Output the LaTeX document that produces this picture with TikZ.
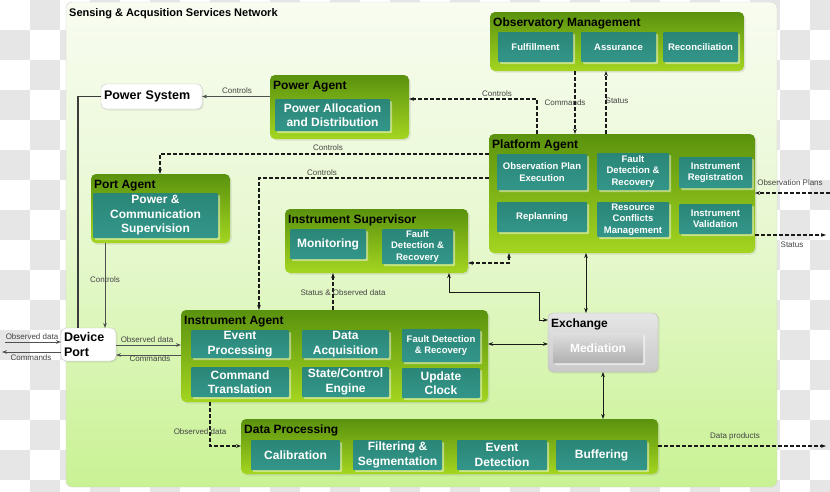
\documentclass[tikz,border=0pt]{standalone}
\usepackage{fontspec}
\setmainfont{Liberation Sans}
\usetikzlibrary{arrows.meta,shadows}
\definecolor{grpTop}{HTML}{5A920E}
\definecolor{grpBot}{HTML}{A4D520}
\definecolor{tealA}{HTML}{2A8677}
\definecolor{tealB}{HTML}{33968A}
\definecolor{panelTop}{HTML}{F8FCF1}
\definecolor{panelMid}{HTML}{E6F8CE}
\definecolor{panelBot}{HTML}{C9F294}
\definecolor{labC}{HTML}{444444}
\definecolor{lineC}{HTML}{1A1A1A}
\definecolor{slineC}{HTML}{505050}
\definecolor{chkC}{HTML}{E6E6E6}
\tikzset{
 grp/.style={rounded corners=5pt, top color=grpTop, bottom color=grpBot, draw=none, inner sep=0pt, outer sep=0pt, anchor=north west,
   drop shadow={shadow xshift=1.5pt, shadow yshift=-1.5pt, opacity=0.18}},
 gtitle/.style={anchor=base west, inner sep=0pt, font=\fontsize{12}{14}\selectfont\bfseries, text=black},
 sub/.style={rounded corners=1pt, top color=tealA, bottom color=tealB, draw=none, inner sep=0pt, outer sep=0pt, anchor=north west,
   text=white, align=center, drop shadow={shadow xshift=2pt, shadow yshift=-2pt, fill=white, opacity=0.45}},
 subS/.style={font=\fontsize{9.5}{11.5}\selectfont\bfseries},
 subL/.style={font=\fontsize{12}{14.5}\selectfont\bfseries},
 wbox/.style={rounded corners=5pt, fill=white, draw=gray!45, inner ysep=0pt, inner xsep=3pt, outer sep=0pt, anchor=north west, align=left,
   font=\fontsize{12.5}{15}\selectfont\bfseries, drop shadow={shadow xshift=1.5pt, shadow yshift=-1.5pt, opacity=0.15}},
 lbl/.style={inner sep=0pt, font=\fontsize{8}{9}\selectfont, text=labC},
 dline/.style={draw=lineC, line width=1.1pt, dash pattern=on 4pt off 2pt},
 sline/.style={draw=slineC, line width=0.7pt},
 bline/.style={draw=lineC, line width=0.7pt},
 tip/.tip={Stealth[length=5pt,width=3.6pt]}
}
\begin{document}
\begin{tikzpicture}[x=1pt,y=-1pt]
\useasboundingbox (0,0) rectangle (830,491);
% checkerboard background
\begin{scope}
\clip (0,0) rectangle (830,491);
\fill[white] (0,0) rectangle (830,491);
\foreach \i in {0,...,27}{\foreach \j in {0,...,16}{%
  \pgfmathtruncatemacro{\chk}{mod(\i+\j,2)}%
  \ifnum\chk=1 \fill[chkC] (\i*30,\j*30) rectangle ++(30,30);\fi}}
\end{scope}
% main panel
\path[draw=gray!35, rounded corners=6pt, top color=panelTop, bottom color=panelBot, middle color=panelMid] (66,2) rectangle (777,487);
\node[anchor=base west, inner sep=0pt, font=\fontsize{11}{13}\selectfont\bfseries] (ttl) at (69,16) {Sensing \& Acqusition Services Network};

% Observatory Management
\node[grp, minimum width=254pt, minimum height=59pt] (obs) at (490,12) {};
\node[gtitle] (obsT) at (493,26) {Observatory Management};
\node[sub, subS, minimum width=75pt, minimum height=30pt] (o1) at (498,32) {Fulfillment};
\node[sub, subS, minimum width=75pt, minimum height=30pt] (o2) at (581,32) {Assurance};
\node[sub, subS, minimum width=75pt, minimum height=30pt] (o3) at (663,32) {Reconciliation};

% Power Agent
\node[grp, minimum width=139pt, minimum height=64pt] (pwr) at (270,75) {};
\node[gtitle] (pwrT) at (273,89) {Power Agent};
\node[sub, subL, minimum width=115pt, minimum height=32pt] (p1) at (275,99) {Power Allocation\\and Distribution};

% Power System
\node[wbox, text width=95pt, minimum height=25pt] (ps) at (101,84) {Power System};

% Platform Agent
\node[grp, minimum width=266pt, minimum height=119pt] (plat) at (489,134) {};
\node[gtitle] (platT) at (492,148) {Platform Agent};
\node[sub, subS, minimum width=90pt, minimum height=36pt] (a1) at (497,154) {Observation Plan\\Execution};
\node[sub, subS, minimum width=72pt, minimum height=37pt] (a2) at (597,153) {Fault\\Detection \&\\Recovery};
\node[sub, subS, minimum width=73pt, minimum height=31pt] (a3) at (679,157) {Instrument\\Registration};
\node[sub, subS, minimum width=90pt, minimum height=30pt] (a4) at (497,202) {Replanning};
\node[sub, subS, minimum width=72pt, minimum height=35pt] (a5) at (597,202) {Resource\\Conflicts\\Management};
\node[sub, subS, minimum width=73pt, minimum height=30pt] (a6) at (679,204) {Instrument\\Validation};

% Port Agent
\node[grp, minimum width=139pt, minimum height=69pt] (port) at (91,174) {};
\node[gtitle] (portT) at (94,188) {Port Agent};
\node[sub, subL, minimum width=125pt, minimum height=45pt] (pt1) at (93,193) {Power \&\\Communication\\Supervision};

% Instrument Supervisor
\node[grp, minimum width=183pt, minimum height=64pt] (is) at (285,209) {};
\node[gtitle] (isT) at (288,223) {Instrument Supervisor};
\node[sub, subL, minimum width=76pt, minimum height=30pt] (s1) at (290,229) {Monitoring};
\node[sub, subS, minimum width=71pt, minimum height=35pt] (s2) at (382,229) {Fault\\Detection \&\\Recovery};

% Instrument Agent
\node[grp, minimum width=307pt, minimum height=92pt] (ia) at (181,310) {};
\node[gtitle] (iaT) at (184,324) {Instrument Agent};
\node[sub, subL, minimum width=98pt, minimum height=28pt] (i1) at (191,330) {Event\\Processing};
\node[sub, subL, minimum width=87pt, minimum height=28pt] (i2) at (302,330) {Data\\Acquisition};
\node[sub, subS, minimum width=78pt, minimum height=33pt] (i3) at (402,329) {Fault Detection\\\& Recovery};
\node[sub, subL, minimum width=98pt, minimum height=30pt] (i4) at (191,367) {Command\\Translation};
\node[sub, subL, minimum width=87pt, minimum height=30pt] (i5) at (302,367) {State/Control\\Engine};
\node[sub, subL, minimum width=78pt, minimum height=30pt] (i6) at (402,368) {Update\\Clock};

% Exchange
\node[rounded corners=5pt, top color=gray!20, bottom color=gray!42, draw=gray!55, inner sep=0pt, outer sep=0pt, anchor=north west,
  minimum width=110pt, minimum height=59pt, drop shadow={shadow xshift=1.5pt, shadow yshift=-1.5pt, opacity=0.15}] (ex) at (548,313) {};
\node[gtitle] (exT) at (551,327) {Exchange};
\node[rounded corners=1pt, top color=gray!25, bottom color=gray!62, draw=none, inner sep=0pt, outer sep=0pt, anchor=north west,
  minimum width=90pt, minimum height=30pt, text=white, font=\fontsize{12}{14}\selectfont\bfseries,
  drop shadow={shadow xshift=2pt, shadow yshift=-2pt, fill=white, opacity=0.5}] (med) at (553,333) {Mediation};

% Data Processing
\node[grp, minimum width=417pt, minimum height=55pt] (dpr) at (241,419) {};
\node[gtitle] (dprT) at (244,433) {Data Processing};
\node[sub, subL, minimum width=89pt, minimum height=30pt] (d1) at (251,440) {Calibration};
\node[sub, subL, minimum width=89pt, minimum height=30pt] (d2) at (353,440) {Filtering \&\\Segmentation};
\node[sub, subL, minimum width=90pt, minimum height=30pt] (d3) at (457,440) {Event\\Detection};
\node[sub, subL, minimum width=91pt, minimum height=30pt] (d4) at (556,440) {Buffering};

% Device Port
\node[wbox, text width=49pt, minimum height=33pt] (dp) at (61,328) {Device\\Port};

% ---------- connectors ----------
% Power Agent -> Power System
\draw[sline, -tip] (ps.east -| pwr.west) -- (ps.east);
\node[lbl] (l1) at (237,91) {Controls};
% Platform -> Power Agent
\coordinate (k1) at (537,99);
\draw[dline, -tip] (k1 |- plat.north) -- (k1) -- (k1 -| pwr.east);
\node[lbl] (l2) at (497,94) {Controls};
% Obs -> Platform (Commands)
\coordinate (k2) at (575,0);
\draw[dline, -tip] (k2 |- obs.south) -- (k2 |- plat.north);
\node[lbl] (l3) at (565,103) {Commands};
% Platform -> Obs (Status)
\coordinate (k3) at (606,0);
\draw[dline, -tip] (k3 |- plat.north) -- (k3 |- obs.south);
\node[lbl] (l4) at (617,101) {Status};
% Platform -> Port Agent
\coordinate (k4) at (160,154);
\draw[dline, -tip] (k4 -| plat.west) -- (k4) -- (k4 |- port.north);
\node[lbl] (l5) at (328,148) {Controls};
% Platform -> Instrument Agent
\coordinate (k5) at (259,178);
\draw[dline, -tip] (k5 -| plat.west) -- (k5) -- (k5 |- ia.north);
\node[lbl] (l6) at (322,173) {Controls};
% Port Agent -> Device Port
\coordinate (k6) at (105,0);
\draw[sline, -tip] (k6 |- port.south) -- (k6 |- dp.north);
\node[lbl] (l7) at (105,280) {Controls};
% Power System -> Device Port (thick)
\coordinate (k7) at (78,97);
\draw[draw=lineC!85, line width=1.8pt] (ps.west) -- (k7 |- ps.west) -- (k7 |- dp.north);
% Device Port <-> Instrument Agent
\coordinate (k8) at (0,345);
\draw[sline, -tip] (k8 -| dp.east) -- (k8 -| ia.west);
\node[lbl] (l8) at (147,340) {Observed data};
\coordinate (k9) at (0,355);
\draw[sline, -tip] (k9 -| ia.west) -- (k9 -| dp.east);
\node[lbl] (l9) at (150,359) {Commands};
% external at Device Port
\coordinate (e1) at (5,342);
\draw[sline, -tip] (e1) -- (e1 -| dp.west);
\node[lbl] (l10) at (32,337) {Observed data};
\coordinate (e2) at (2,352);
\draw[sline, -tip] (e2 -| dp.west) -- (e2);
\node[lbl] (l11) at (31,358) {Commands};
% Instrument Agent -> Instrument Supervisor
\coordinate (k10) at (333,0);
\draw[dline, -tip] (k10 |- ia.north) -- (k10 |- is.south);
\node[lbl] (l12) at (343,293) {Status \& Observed data};
% Platform <-> Instrument Supervisor
\coordinate (k11) at (509,263);
\draw[dline, tip-tip] (k11 |- plat.south) -- (k11) -- (k11 -| is.east);
% Exchange <-> Instrument Supervisor
\coordinate (k12) at (449,292);
\coordinate (k13) at (539,292);
\coordinate (k14) at (539,320);
\draw[bline, tip-tip] (k12 |- is.south) -- (k12) -- (k13) -- (k14) -- (k14 -| ex.west);
% Platform <-> Exchange
\coordinate (k15) at (586,0);
\draw[bline, tip-tip] (k15 |- plat.south) -- (k15 |- ex.north);
% Instrument Agent <-> Exchange
\coordinate (k16) at (0,344);
\draw[bline, tip-tip] (k16 -| ia.east) -- (k16 -| ex.west);
% Exchange <-> Data Processing
\coordinate (k17) at (603,0);
\draw[bline, tip-tip] (k17 |- ex.south) -- (k17 |- dpr.north);
% Instrument Agent -> Data Processing
\coordinate (k18) at (210,446);
\draw[dline, -tip] (k18 |- ia.south) -- (k18) -- (k18 -| dpr.west);
\node[lbl] (l13) at (200,432) {Observed data};
% Data products
\coordinate (e3) at (826,446);
\draw[dline, -tip] (e3 -| dpr.east) -- (e3);
\node[lbl] (l14) at (735,436) {Data products};
% Observation Plans
\coordinate (e4) at (830,193);
\draw[dline, -tip] (e4) -- (e4 -| plat.east);
\node[lbl] (l15) at (790,183) {Observation Plans};
% Status out
\coordinate (e5) at (826,235);
\draw[dline, -tip] (e5 -| plat.east) -- (e5);
\node[lbl] (l16) at (792,245) {Status};
\end{tikzpicture}
\end{document}
